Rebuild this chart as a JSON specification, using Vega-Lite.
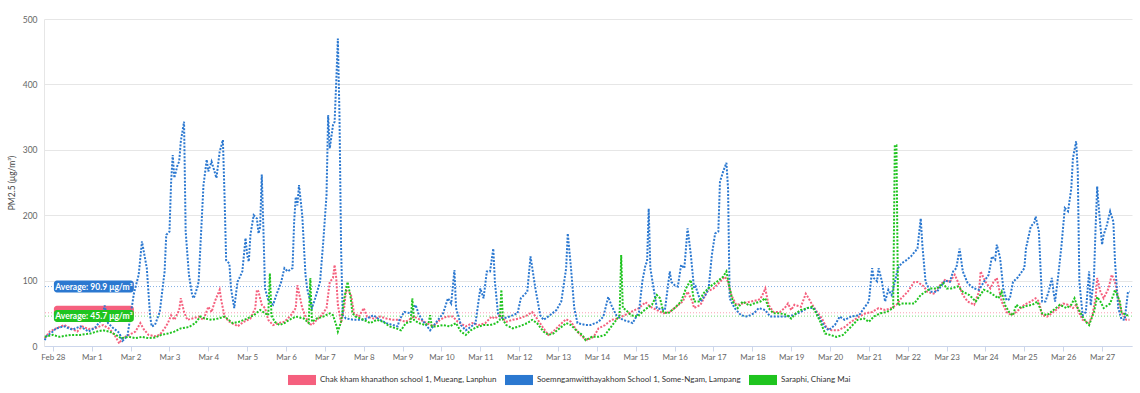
{
"$schema":"https://vega.github.io/schema/vega-lite/v6.json",
"width":1088,"height":327,
"autosize":{"type":"none"},
"padding":{"left":44,"top":19,"right":8,"bottom":47},
"background":"#ffffff",
"config":{
 "view":{"stroke":null},
 "font":"Lato",
 "axisY":{"gridColor":"#e6e6e6","domainColor":"#e6e6e6","ticks":false,"tickSize":0,"labelPadding":7,"labelColor":"#666666","labelFontSize":8.5,"labelFont":"Lato","titleFont":"Lato","titleFontSize":8.5,"titleColor":"#444444","titleFontWeight":"normal","titlePadding":6},
 "axisX":{"grid":false,"domainColor":"#ccd6eb","tickColor":"#ccd6eb","tickSize":5,"labelPadding":2,"labelColor":"#666666","labelFontSize":8,"labelFont":"Lato","labelFlush":false,"labelOverlap":false}
},
"datasets":{
 "avg":[
  {"s":"P","avg":50.8,"label":"Average: 50.8 μg/m³"},
  {"s":"B","avg":90.9,"label":"Average: 90.9 μg/m³"},
  {"s":"G","avg":45.7,"label":"Average: 45.7 μg/m³"}
 ]
},
"data":{"format":{"parse":{"t":"utc:'%m-%d %H'"}},"values":[
{"t":"02-27 19","s":"B","v":9},{"t":"02-27 20","s":"B","v":15},{"t":"02-27 23","s":"B","v":20},{"t":"02-28 02","s":"B","v":27},{"t":"02-28 07","s":"B","v":30},{"t":"02-28 12","s":"B","v":25},{"t":"02-28 17","s":"B","v":30},{"t":"02-28 22","s":"B","v":22},
{"t":"03-01 02","s":"B","v":28},{"t":"03-01 06","s":"B","v":40},{"t":"03-01 08","s":"B","v":62},{"t":"03-01 10","s":"B","v":35},{"t":"03-01 13","s":"B","v":28},{"t":"03-01 17","s":"B","v":20},{"t":"03-01 19","s":"B","v":8},{"t":"03-01 22","s":"B","v":15},
{"t":"03-02 00","s":"B","v":47},{"t":"03-02 02","s":"B","v":80},{"t":"03-02 05","s":"B","v":109},{"t":"03-02 07","s":"B","v":160},{"t":"03-02 10","s":"B","v":119},{"t":"03-02 12","s":"B","v":47},{"t":"03-02 13","s":"B","v":30},{"t":"03-02 15","s":"B","v":32},{"t":"03-02 18","s":"B","v":52},{"t":"03-02 21","s":"B","v":114},{"t":"03-02 22","s":"B","v":170},
{"t":"03-03 00","s":"B","v":175},{"t":"03-03 01","s":"B","v":250},{"t":"03-03 02","s":"B","v":292},{"t":"03-03 03","s":"B","v":257},{"t":"03-03 05","s":"B","v":277},{"t":"03-03 06","s":"B","v":282},{"t":"03-03 07","s":"B","v":313},{"t":"03-03 09","s":"B","v":343},{"t":"03-03 10","s":"B","v":175},{"t":"03-03 12","s":"B","v":109},{"t":"03-03 14","s":"B","v":78},{"t":"03-03 15","s":"B","v":73},{"t":"03-03 17","s":"B","v":88},{"t":"03-03 18","s":"B","v":98},{"t":"03-03 21","s":"B","v":246},{"t":"03-03 23","s":"B","v":285},
{"t":"03-04 00","s":"B","v":267},{"t":"03-04 02","s":"B","v":282},{"t":"03-04 05","s":"B","v":257},{"t":"03-04 07","s":"B","v":297},{"t":"03-04 09","s":"B","v":315},{"t":"03-04 10","s":"B","v":230},{"t":"03-04 11","s":"B","v":131},{"t":"03-04 13","s":"B","v":126},{"t":"03-04 14","s":"B","v":88},{"t":"03-04 16","s":"B","v":58},{"t":"03-04 18","s":"B","v":98},{"t":"03-04 19","s":"B","v":103},{"t":"03-04 21","s":"B","v":114},{"t":"03-04 23","s":"B","v":165},
{"t":"03-05 00","s":"B","v":139},{"t":"03-05 01","s":"B","v":129},{"t":"03-05 02","s":"B","v":170},{"t":"03-05 04","s":"B","v":200},{"t":"03-05 06","s":"B","v":195},{"t":"03-05 07","s":"B","v":172},{"t":"03-05 08","s":"B","v":182},{"t":"03-05 09","s":"B","v":262},{"t":"03-05 10","s":"B","v":180},{"t":"03-05 11","s":"B","v":88},{"t":"03-05 13","s":"B","v":70},{"t":"03-05 16","s":"B","v":63},{"t":"03-05 18","s":"B","v":78},{"t":"03-05 21","s":"B","v":98},{"t":"03-05 23","s":"B","v":119},
{"t":"03-06 01","s":"B","v":114},{"t":"03-06 04","s":"B","v":119},{"t":"03-06 05","s":"B","v":190},{"t":"03-06 06","s":"B","v":228},{"t":"03-06 07","s":"B","v":215},{"t":"03-06 08","s":"B","v":246},{"t":"03-06 10","s":"B","v":200},{"t":"03-06 12","s":"B","v":109},{"t":"03-06 13","s":"B","v":88},{"t":"03-06 15","s":"B","v":68},{"t":"03-06 16","s":"B","v":58},{"t":"03-06 18","s":"B","v":73},{"t":"03-06 21","s":"B","v":98},{"t":"03-06 23","s":"B","v":160},
{"t":"03-07 01","s":"B","v":231},{"t":"03-07 02","s":"B","v":353},{"t":"03-07 03","s":"B","v":302},{"t":"03-07 05","s":"B","v":338},{"t":"03-07 06","s":"B","v":343},{"t":"03-07 07","s":"B","v":404},{"t":"03-07 08","s":"B","v":470},{"t":"03-07 09","s":"B","v":353},{"t":"03-07 10","s":"B","v":149},{"t":"03-07 11","s":"B","v":47},{"t":"03-07 13","s":"B","v":42},{"t":"03-07 18","s":"B","v":40},
{"t":"03-08 00","s":"B","v":40},{"t":"03-08 06","s":"B","v":47},{"t":"03-08 10","s":"B","v":40},{"t":"03-08 14","s":"B","v":35},{"t":"03-08 18","s":"B","v":32},{"t":"03-08 21","s":"B","v":30},{"t":"03-08 22","s":"B","v":40},
{"t":"03-09 01","s":"B","v":52},{"t":"03-09 05","s":"B","v":50},{"t":"03-09 08","s":"B","v":63},{"t":"03-09 10","s":"B","v":48},{"t":"03-09 13","s":"B","v":37},{"t":"03-09 17","s":"B","v":24},{"t":"03-09 21","s":"B","v":37},
{"t":"03-10 01","s":"B","v":50},{"t":"03-10 04","s":"B","v":73},{"t":"03-10 06","s":"B","v":65},{"t":"03-10 08","s":"B","v":116},{"t":"03-10 09","s":"B","v":58},{"t":"03-10 12","s":"B","v":32},{"t":"03-10 15","s":"B","v":24},{"t":"03-10 18","s":"B","v":29},{"t":"03-10 21","s":"B","v":35},
{"t":"03-11 00","s":"B","v":88},{"t":"03-11 02","s":"B","v":73},{"t":"03-11 04","s":"B","v":114},{"t":"03-11 06","s":"B","v":114},{"t":"03-11 08","s":"B","v":149},{"t":"03-11 09","s":"B","v":98},{"t":"03-11 11","s":"B","v":47},{"t":"03-11 14","s":"B","v":42},{"t":"03-11 18","s":"B","v":45},{"t":"03-11 23","s":"B","v":50},
{"t":"03-12 01","s":"B","v":73},{"t":"03-12 05","s":"B","v":83},{"t":"03-12 07","s":"B","v":137},{"t":"03-12 10","s":"B","v":88},{"t":"03-12 13","s":"B","v":47},{"t":"03-12 15","s":"B","v":40},{"t":"03-12 19","s":"B","v":47},{"t":"03-12 23","s":"B","v":55},
{"t":"03-13 02","s":"B","v":68},{"t":"03-13 05","s":"B","v":119},{"t":"03-13 06","s":"B","v":172},{"t":"03-13 08","s":"B","v":119},{"t":"03-13 10","s":"B","v":58},{"t":"03-13 12","s":"B","v":35},{"t":"03-13 17","s":"B","v":32},{"t":"03-13 20","s":"B","v":32},
{"t":"03-14 01","s":"B","v":37},{"t":"03-14 04","s":"B","v":45},{"t":"03-14 07","s":"B","v":75},{"t":"03-14 09","s":"B","v":62},{"t":"03-14 12","s":"B","v":47},{"t":"03-14 16","s":"B","v":40},{"t":"03-14 20","s":"B","v":37},{"t":"03-14 22","s":"B","v":35},
{"t":"03-15 02","s":"B","v":52},{"t":"03-15 04","s":"B","v":98},{"t":"03-15 06","s":"B","v":124},{"t":"03-15 07","s":"B","v":129},{"t":"03-15 08","s":"B","v":210},{"t":"03-15 09","s":"B","v":119},{"t":"03-15 13","s":"B","v":58},{"t":"03-15 18","s":"B","v":55},{"t":"03-15 21","s":"B","v":114},{"t":"03-15 22","s":"B","v":98},
{"t":"03-16 00","s":"B","v":93},{"t":"03-16 02","s":"B","v":91},{"t":"03-16 04","s":"B","v":124},{"t":"03-16 06","s":"B","v":119},{"t":"03-16 07","s":"B","v":149},{"t":"03-16 08","s":"B","v":180},{"t":"03-16 10","s":"B","v":140},{"t":"03-16 12","s":"B","v":88},{"t":"03-16 13","s":"B","v":91},{"t":"03-16 16","s":"B","v":68},{"t":"03-16 19","s":"B","v":78},{"t":"03-16 21","s":"B","v":88},{"t":"03-16 23","s":"B","v":139},
{"t":"03-17 01","s":"B","v":172},{"t":"03-17 03","s":"B","v":175},{"t":"03-17 04","s":"B","v":251},{"t":"03-17 06","s":"B","v":267},{"t":"03-17 08","s":"B","v":280},{"t":"03-17 09","s":"B","v":241},{"t":"03-17 10","s":"B","v":73},{"t":"03-17 13","s":"B","v":58},{"t":"03-17 17","s":"B","v":47},{"t":"03-17 21","s":"B","v":45},
{"t":"03-18 01","s":"B","v":50},{"t":"03-18 04","s":"B","v":58},{"t":"03-18 08","s":"B","v":55},{"t":"03-18 11","s":"B","v":45},{"t":"03-18 17","s":"B","v":45},{"t":"03-18 21","s":"B","v":45},
{"t":"03-19 01","s":"B","v":47},{"t":"03-19 06","s":"B","v":52},{"t":"03-19 10","s":"B","v":58},{"t":"03-19 14","s":"B","v":58},{"t":"03-19 17","s":"B","v":45},{"t":"03-19 20","s":"B","v":32},{"t":"03-19 23","s":"B","v":24},
{"t":"03-20 03","s":"B","v":32},{"t":"03-20 06","s":"B","v":45},{"t":"03-20 09","s":"B","v":40},{"t":"03-20 13","s":"B","v":45},{"t":"03-20 18","s":"B","v":47},{"t":"03-20 21","s":"B","v":58},
{"t":"03-21 00","s":"B","v":68},{"t":"03-21 02","s":"B","v":119},{"t":"03-21 03","s":"B","v":104},{"t":"03-21 05","s":"B","v":99},{"t":"03-21 06","s":"B","v":119},{"t":"03-21 08","s":"B","v":99},{"t":"03-21 10","s":"B","v":68},{"t":"03-21 12","s":"B","v":86},{"t":"03-21 14","s":"B","v":78},{"t":"03-21 16","s":"B","v":98},{"t":"03-21 18","s":"B","v":119},{"t":"03-21 20","s":"B","v":126},{"t":"03-21 23","s":"B","v":131},
{"t":"03-22 02","s":"B","v":137},{"t":"03-22 06","s":"B","v":149},{"t":"03-22 08","s":"B","v":195},{"t":"03-22 09","s":"B","v":155},{"t":"03-22 11","s":"B","v":98},{"t":"03-22 14","s":"B","v":83},{"t":"03-22 18","s":"B","v":83},{"t":"03-22 21","s":"B","v":93},{"t":"03-22 23","s":"B","v":100},
{"t":"03-23 02","s":"B","v":98},{"t":"03-23 04","s":"B","v":114},{"t":"03-23 06","s":"B","v":119},{"t":"03-23 08","s":"B","v":149},{"t":"03-23 10","s":"B","v":114},{"t":"03-23 13","s":"B","v":96},{"t":"03-23 17","s":"B","v":88},{"t":"03-23 20","s":"B","v":86},{"t":"03-23 23","s":"B","v":98},
{"t":"03-24 02","s":"B","v":109},{"t":"03-24 04","s":"B","v":137},{"t":"03-24 06","s":"B","v":132},{"t":"03-24 07","s":"B","v":155},{"t":"03-24 09","s":"B","v":135},{"t":"03-24 11","s":"B","v":88},{"t":"03-24 13","s":"B","v":70},{"t":"03-24 15","s":"B","v":72},{"t":"03-24 17","s":"B","v":98},{"t":"03-24 20","s":"B","v":105},
{"t":"03-25 00","s":"B","v":119},{"t":"03-25 01","s":"B","v":149},{"t":"03-25 04","s":"B","v":183},{"t":"03-25 06","s":"B","v":188},{"t":"03-25 07","s":"B","v":198},{"t":"03-25 09","s":"B","v":175},{"t":"03-25 10","s":"B","v":119},{"t":"03-25 11","s":"B","v":68},{"t":"03-25 13","s":"B","v":68},{"t":"03-25 15","s":"B","v":83},{"t":"03-25 17","s":"B","v":104},{"t":"03-25 18","s":"B","v":83},{"t":"03-25 19","s":"B","v":68},{"t":"03-25 21","s":"B","v":109},{"t":"03-25 23","s":"B","v":155},
{"t":"03-26 01","s":"B","v":211},{"t":"03-26 03","s":"B","v":206},{"t":"03-26 05","s":"B","v":241},{"t":"03-26 06","s":"B","v":287},{"t":"03-26 08","s":"B","v":313},{"t":"03-26 09","s":"B","v":267},{"t":"03-26 10","s":"B","v":98},{"t":"03-26 12","s":"B","v":47},{"t":"03-26 14","s":"B","v":52},{"t":"03-26 16","s":"B","v":114},{"t":"03-26 17","s":"B","v":62},{"t":"03-26 19","s":"B","v":104},{"t":"03-26 20","s":"B","v":180},{"t":"03-26 21","s":"B","v":244},{"t":"03-26 22","s":"B","v":211},
{"t":"03-27 00","s":"B","v":155},{"t":"03-27 01","s":"B","v":170},{"t":"03-27 03","s":"B","v":185},{"t":"03-27 05","s":"B","v":206},{"t":"03-27 07","s":"B","v":190},{"t":"03-27 08","s":"B","v":129},{"t":"03-27 10","s":"B","v":58},{"t":"03-27 12","s":"B","v":41},{"t":"03-27 14","s":"B","v":40},{"t":"03-27 16","s":"B","v":83},{"t":"03-27 17","s":"B","v":83},
{"t":"02-27 19","s":"P","v":12},{"t":"02-27 22","s":"P","v":22},{"t":"02-28 02","s":"P","v":27},{"t":"02-28 07","s":"P","v":32},{"t":"02-28 11","s":"P","v":27},{"t":"02-28 15","s":"P","v":22},{"t":"02-28 18","s":"P","v":30},{"t":"02-28 22","s":"P","v":26},
{"t":"03-01 02","s":"P","v":27},{"t":"03-01 07","s":"P","v":32},{"t":"03-01 11","s":"P","v":26},{"t":"03-01 14","s":"P","v":17},{"t":"03-01 17","s":"P","v":4},{"t":"03-01 19","s":"P","v":12},{"t":"03-01 23","s":"P","v":17},
{"t":"03-02 03","s":"P","v":22},{"t":"03-02 06","s":"P","v":35},{"t":"03-02 08","s":"P","v":26},{"t":"03-02 11","s":"P","v":17},{"t":"03-02 15","s":"P","v":15},{"t":"03-02 18","s":"P","v":17},{"t":"03-02 21","s":"P","v":27},{"t":"03-02 23","s":"P","v":35},
{"t":"03-03 01","s":"P","v":47},{"t":"03-03 03","s":"P","v":40},{"t":"03-03 06","s":"P","v":55},{"t":"03-03 07","s":"P","v":73},{"t":"03-03 09","s":"P","v":52},{"t":"03-03 11","s":"P","v":40},{"t":"03-03 14","s":"P","v":42},{"t":"03-03 18","s":"P","v":45},{"t":"03-03 21","s":"P","v":40},
{"t":"03-04 00","s":"P","v":60},{"t":"03-04 02","s":"P","v":52},{"t":"03-04 04","s":"P","v":68},{"t":"03-04 07","s":"P","v":86},{"t":"03-04 08","s":"P","v":70},{"t":"03-04 10","s":"P","v":45},{"t":"03-04 13","s":"P","v":37},{"t":"03-04 17","s":"P","v":32},{"t":"03-04 18","s":"P","v":30},{"t":"03-04 22","s":"P","v":37},
{"t":"03-05 02","s":"P","v":42},{"t":"03-05 05","s":"P","v":58},{"t":"03-05 06","s":"P","v":86},{"t":"03-05 07","s":"P","v":83},{"t":"03-05 09","s":"P","v":63},{"t":"03-05 11","s":"P","v":58},{"t":"03-05 13","s":"P","v":40},{"t":"03-05 16","s":"P","v":32},{"t":"03-05 19","s":"P","v":35},{"t":"03-05 23","s":"P","v":37},
{"t":"03-06 03","s":"P","v":47},{"t":"03-06 06","s":"P","v":58},{"t":"03-06 07","s":"P","v":93},{"t":"03-06 10","s":"P","v":58},{"t":"03-06 12","s":"P","v":45},{"t":"03-06 14","s":"P","v":35},{"t":"03-06 16","s":"P","v":32},{"t":"03-06 19","s":"P","v":40},{"t":"03-06 22","s":"P","v":47},
{"t":"03-07 01","s":"P","v":58},{"t":"03-07 03","s":"P","v":98},{"t":"03-07 05","s":"P","v":104},{"t":"03-07 06","s":"P","v":124},{"t":"03-07 07","s":"P","v":104},{"t":"03-07 08","s":"P","v":63},{"t":"03-07 10","s":"P","v":35},{"t":"03-07 12","s":"P","v":60},{"t":"03-07 13","s":"P","v":85},{"t":"03-07 16","s":"P","v":80},{"t":"03-07 18","s":"P","v":50},{"t":"03-07 21","s":"P","v":45},
{"t":"03-08 00","s":"P","v":58},{"t":"03-08 02","s":"P","v":45},{"t":"03-08 06","s":"P","v":42},{"t":"03-08 10","s":"P","v":45},{"t":"03-08 14","s":"P","v":42},{"t":"03-08 18","s":"P","v":40},{"t":"03-08 22","s":"P","v":40},
{"t":"03-09 02","s":"P","v":37},{"t":"03-09 07","s":"P","v":45},{"t":"03-09 11","s":"P","v":40},{"t":"03-09 15","s":"P","v":35},{"t":"03-09 19","s":"P","v":30},{"t":"03-09 23","s":"P","v":40},
{"t":"03-10 03","s":"P","v":45},{"t":"03-10 07","s":"P","v":45},{"t":"03-10 10","s":"P","v":37},{"t":"03-10 15","s":"P","v":30},{"t":"03-10 19","s":"P","v":35},{"t":"03-10 23","s":"P","v":32},
{"t":"03-11 03","s":"P","v":35},{"t":"03-11 07","s":"P","v":45},{"t":"03-11 09","s":"P","v":42},{"t":"03-11 12","s":"P","v":47},{"t":"03-11 16","s":"P","v":37},{"t":"03-11 20","s":"P","v":40},
{"t":"03-12 00","s":"P","v":42},{"t":"03-12 05","s":"P","v":47},{"t":"03-12 08","s":"P","v":52},{"t":"03-12 11","s":"P","v":42},{"t":"03-12 15","s":"P","v":27},{"t":"03-12 18","s":"P","v":17},{"t":"03-12 21","s":"P","v":22},
{"t":"03-13 01","s":"P","v":32},{"t":"03-13 05","s":"P","v":41},{"t":"03-13 08","s":"P","v":37},{"t":"03-13 12","s":"P","v":22},{"t":"03-13 15","s":"P","v":14},{"t":"03-13 18","s":"P","v":9},{"t":"03-13 22","s":"P","v":14},
{"t":"03-14 01","s":"P","v":27},{"t":"03-14 05","s":"P","v":32},{"t":"03-14 09","s":"P","v":40},{"t":"03-14 13","s":"P","v":42},{"t":"03-14 17","s":"P","v":47},{"t":"03-14 21","s":"P","v":52},
{"t":"03-15 02","s":"P","v":58},{"t":"03-15 06","s":"P","v":67},{"t":"03-15 09","s":"P","v":60},{"t":"03-15 13","s":"P","v":55},{"t":"03-15 17","s":"P","v":50},{"t":"03-15 21","s":"P","v":52},
{"t":"03-16 01","s":"P","v":60},{"t":"03-16 05","s":"P","v":68},{"t":"03-16 08","s":"P","v":83},{"t":"03-16 11","s":"P","v":68},{"t":"03-16 12","s":"P","v":58},{"t":"03-16 16","s":"P","v":63},{"t":"03-16 20","s":"P","v":83},
{"t":"03-17 00","s":"P","v":88},{"t":"03-17 04","s":"P","v":98},{"t":"03-17 07","s":"P","v":106},{"t":"03-17 09","s":"P","v":98},{"t":"03-17 11","s":"P","v":78},{"t":"03-17 14","s":"P","v":63},{"t":"03-17 18","s":"P","v":65},{"t":"03-17 23","s":"P","v":68},
{"t":"03-18 03","s":"P","v":70},{"t":"03-18 05","s":"P","v":72},{"t":"03-18 07","s":"P","v":82},{"t":"03-18 08","s":"P","v":88},{"t":"03-18 10","s":"P","v":63},{"t":"03-18 13","s":"P","v":52},{"t":"03-18 17","s":"P","v":52},{"t":"03-18 20","s":"P","v":58},{"t":"03-18 22","s":"P","v":65},
{"t":"03-19 00","s":"P","v":55},{"t":"03-19 02","s":"P","v":63},{"t":"03-19 06","s":"P","v":60},{"t":"03-19 09","s":"P","v":80},{"t":"03-19 11","s":"P","v":72},{"t":"03-19 13","s":"P","v":63},{"t":"03-19 16","s":"P","v":52},{"t":"03-19 19","s":"P","v":42},{"t":"03-19 22","s":"P","v":27},
{"t":"03-20 01","s":"P","v":24},{"t":"03-20 05","s":"P","v":24},{"t":"03-20 09","s":"P","v":29},{"t":"03-20 13","s":"P","v":37},{"t":"03-20 18","s":"P","v":45},{"t":"03-20 22","s":"P","v":50},
{"t":"03-21 02","s":"P","v":52},{"t":"03-21 06","s":"P","v":58},{"t":"03-21 10","s":"P","v":55},{"t":"03-21 14","s":"P","v":58},{"t":"03-21 17","s":"P","v":63},{"t":"03-21 20","s":"P","v":73},
{"t":"03-22 00","s":"P","v":83},{"t":"03-22 04","s":"P","v":98},{"t":"03-22 06","s":"P","v":98},{"t":"03-22 10","s":"P","v":91},{"t":"03-22 12","s":"P","v":83},{"t":"03-22 16","s":"P","v":80},{"t":"03-22 20","s":"P","v":93},{"t":"03-22 23","s":"P","v":101},
{"t":"03-23 02","s":"P","v":98},{"t":"03-23 05","s":"P","v":109},{"t":"03-23 07","s":"P","v":98},{"t":"03-23 10","s":"P","v":78},{"t":"03-23 13","s":"P","v":68},{"t":"03-23 17","s":"P","v":63},{"t":"03-23 20","s":"P","v":83},{"t":"03-23 21","s":"P","v":114},
{"t":"03-24 00","s":"P","v":98},{"t":"03-24 03","s":"P","v":88},{"t":"03-24 05","s":"P","v":98},{"t":"03-24 07","s":"P","v":104},{"t":"03-24 10","s":"P","v":68},{"t":"03-24 13","s":"P","v":52},{"t":"03-24 16","s":"P","v":47},{"t":"03-24 19","s":"P","v":52},
{"t":"03-25 00","s":"P","v":63},{"t":"03-25 04","s":"P","v":68},{"t":"03-25 07","s":"P","v":73},{"t":"03-25 09","s":"P","v":68},{"t":"03-25 11","s":"P","v":47},{"t":"03-25 14","s":"P","v":45},{"t":"03-25 17","s":"P","v":50},{"t":"03-25 21","s":"P","v":58},
{"t":"03-26 00","s":"P","v":65},{"t":"03-26 03","s":"P","v":63},{"t":"03-26 06","s":"P","v":58},{"t":"03-26 08","s":"P","v":63},{"t":"03-26 10","s":"P","v":50},{"t":"03-26 12","s":"P","v":40},{"t":"03-26 16","s":"P","v":35},{"t":"03-26 18","s":"P","v":47},{"t":"03-26 20","s":"P","v":73},{"t":"03-26 21","s":"P","v":104},{"t":"03-26 23","s":"P","v":83},
{"t":"03-27 01","s":"P","v":73},{"t":"03-27 04","s":"P","v":88},{"t":"03-27 06","s":"P","v":109},{"t":"03-27 08","s":"P","v":98},{"t":"03-27 10","s":"P","v":73},{"t":"03-27 12","s":"P","v":52},{"t":"03-27 15","s":"P","v":40},{"t":"03-27 17","s":"P","v":40},
{"t":"02-27 19","s":"G","v":14},{"t":"02-28 00","s":"G","v":17},{"t":"02-28 04","s":"G","v":14},{"t":"02-28 11","s":"G","v":17},{"t":"02-28 17","s":"G","v":17},{"t":"02-28 23","s":"G","v":19},
{"t":"03-01 03","s":"G","v":22},{"t":"03-01 07","s":"G","v":24},{"t":"03-01 11","s":"G","v":22},{"t":"03-01 15","s":"G","v":17},{"t":"03-01 18","s":"G","v":12},{"t":"03-01 23","s":"G","v":14},
{"t":"03-02 03","s":"G","v":12},{"t":"03-02 07","s":"G","v":14},{"t":"03-02 11","s":"G","v":12},{"t":"03-02 15","s":"G","v":13},{"t":"03-02 19","s":"G","v":17},{"t":"03-02 23","s":"G","v":19},
{"t":"03-03 03","s":"G","v":22},{"t":"03-03 07","s":"G","v":27},{"t":"03-03 12","s":"G","v":29},{"t":"03-03 16","s":"G","v":35},{"t":"03-03 19","s":"G","v":45},{"t":"03-03 22","s":"G","v":42},
{"t":"03-04 02","s":"G","v":40},{"t":"03-04 06","s":"G","v":42},{"t":"03-04 10","s":"G","v":45},{"t":"03-04 15","s":"G","v":35},{"t":"03-04 19","s":"G","v":37},
{"t":"03-05 00","s":"G","v":42},{"t":"03-05 04","s":"G","v":47},{"t":"03-05 08","s":"G","v":55},{"t":"03-05 11","s":"G","v":50},{"t":"03-05 13","s":"G","v":47},{"t":"03-05 14","s":"G","v":111},{"t":"03-05 15","s":"G","v":47},{"t":"03-05 17","s":"G","v":37},{"t":"03-05 20","s":"G","v":32},{"t":"03-05 23","s":"G","v":35},
{"t":"03-06 02","s":"G","v":40},{"t":"03-06 06","s":"G","v":45},{"t":"03-06 11","s":"G","v":42},{"t":"03-06 14","s":"G","v":35},{"t":"03-06 15","s":"G","v":104},{"t":"03-06 16","s":"G","v":37},{"t":"03-06 19","s":"G","v":42},{"t":"03-06 23","s":"G","v":45},
{"t":"03-07 03","s":"G","v":50},{"t":"03-07 05","s":"G","v":47},{"t":"03-07 07","s":"G","v":32},{"t":"03-07 08","s":"G","v":22},{"t":"03-07 10","s":"G","v":37},{"t":"03-07 12","s":"G","v":73},{"t":"03-07 14","s":"G","v":98},{"t":"03-07 16","s":"G","v":73},{"t":"03-07 17","s":"G","v":50},{"t":"03-07 19","s":"G","v":45},
{"t":"03-08 00","s":"G","v":40},{"t":"03-08 04","s":"G","v":35},{"t":"03-08 08","s":"G","v":40},{"t":"03-08 12","s":"G","v":37},{"t":"03-08 16","s":"G","v":30},{"t":"03-08 20","s":"G","v":27},{"t":"03-08 23","s":"G","v":24},
{"t":"03-09 02","s":"G","v":35},{"t":"03-09 05","s":"G","v":37},{"t":"03-09 06","s":"G","v":73},{"t":"03-09 07","s":"G","v":40},{"t":"03-09 10","s":"G","v":35},{"t":"03-09 14","s":"G","v":32},{"t":"03-09 16","s":"G","v":35},{"t":"03-09 17","s":"G","v":47},{"t":"03-09 18","s":"G","v":30},{"t":"03-09 21","s":"G","v":30},
{"t":"03-10 01","s":"G","v":32},{"t":"03-10 05","s":"G","v":30},{"t":"03-10 09","s":"G","v":35},{"t":"03-10 12","s":"G","v":22},{"t":"03-10 15","s":"G","v":17},{"t":"03-10 18","s":"G","v":24},{"t":"03-10 22","s":"G","v":29},
{"t":"03-11 02","s":"G","v":32},{"t":"03-11 06","s":"G","v":32},{"t":"03-11 10","s":"G","v":35},{"t":"03-11 12","s":"G","v":40},{"t":"03-11 13","s":"G","v":86},{"t":"03-11 14","s":"G","v":40},{"t":"03-11 16","s":"G","v":32},{"t":"03-11 20","s":"G","v":27},
{"t":"03-12 00","s":"G","v":30},{"t":"03-12 05","s":"G","v":35},{"t":"03-12 08","s":"G","v":40},{"t":"03-12 11","s":"G","v":35},{"t":"03-12 15","s":"G","v":22},{"t":"03-12 18","s":"G","v":17},{"t":"03-12 21","s":"G","v":19},
{"t":"03-13 01","s":"G","v":27},{"t":"03-13 05","s":"G","v":35},{"t":"03-13 08","s":"G","v":32},{"t":"03-13 12","s":"G","v":22},{"t":"03-13 15","s":"G","v":17},{"t":"03-13 17","s":"G","v":9},{"t":"03-13 21","s":"G","v":14},
{"t":"03-14 01","s":"G","v":14},{"t":"03-14 05","s":"G","v":17},{"t":"03-14 09","s":"G","v":30},{"t":"03-14 12","s":"G","v":40},{"t":"03-14 14","s":"G","v":47},{"t":"03-14 15","s":"G","v":139},{"t":"03-14 16","s":"G","v":58},{"t":"03-14 18","s":"G","v":55},{"t":"03-14 21","s":"G","v":47},
{"t":"03-15 01","s":"G","v":45},{"t":"03-15 04","s":"G","v":52},{"t":"03-15 07","s":"G","v":58},{"t":"03-15 10","s":"G","v":63},{"t":"03-15 13","s":"G","v":78},{"t":"03-15 15","s":"G","v":73},{"t":"03-15 17","s":"G","v":52},{"t":"03-15 20","s":"G","v":50},
{"t":"03-16 00","s":"G","v":58},{"t":"03-16 04","s":"G","v":68},{"t":"03-16 07","s":"G","v":88},{"t":"03-16 10","s":"G","v":101},{"t":"03-16 12","s":"G","v":68},{"t":"03-16 15","s":"G","v":68},{"t":"03-16 18","s":"G","v":81},{"t":"03-16 22","s":"G","v":91},
{"t":"03-17 02","s":"G","v":98},{"t":"03-17 06","s":"G","v":106},{"t":"03-17 08","s":"G","v":114},{"t":"03-17 10","s":"G","v":88},{"t":"03-17 12","s":"G","v":68},{"t":"03-17 15","s":"G","v":58},{"t":"03-17 18","s":"G","v":68},{"t":"03-17 22","s":"G","v":62},
{"t":"03-18 01","s":"G","v":65},{"t":"03-18 05","s":"G","v":68},{"t":"03-18 08","s":"G","v":73},{"t":"03-18 10","s":"G","v":58},{"t":"03-18 13","s":"G","v":50},{"t":"03-18 17","s":"G","v":50},{"t":"03-18 21","s":"G","v":48},
{"t":"03-19 00","s":"G","v":42},{"t":"03-19 03","s":"G","v":50},{"t":"03-19 06","s":"G","v":55},{"t":"03-19 10","s":"G","v":58},{"t":"03-19 13","s":"G","v":60},{"t":"03-19 15","s":"G","v":52},{"t":"03-19 18","s":"G","v":37},{"t":"03-19 21","s":"G","v":19},
{"t":"03-20 00","s":"G","v":17},{"t":"03-20 04","s":"G","v":14},{"t":"03-20 08","s":"G","v":17},{"t":"03-20 12","s":"G","v":27},{"t":"03-20 17","s":"G","v":40},{"t":"03-20 21","s":"G","v":42},
{"t":"03-21 00","s":"G","v":37},{"t":"03-21 03","s":"G","v":45},{"t":"03-21 07","s":"G","v":50},{"t":"03-21 11","s":"G","v":52},{"t":"03-21 15","s":"G","v":58},{"t":"03-21 16","s":"G","v":307},{"t":"03-21 17","s":"G","v":307},{"t":"03-21 18","s":"G","v":62},{"t":"03-21 20","s":"G","v":65},
{"t":"03-22 00","s":"G","v":65},{"t":"03-22 04","s":"G","v":65},{"t":"03-22 08","s":"G","v":78},{"t":"03-22 11","s":"G","v":83},{"t":"03-22 14","s":"G","v":88},{"t":"03-22 18","s":"G","v":88},{"t":"03-22 22","s":"G","v":96},
{"t":"03-23 00","s":"G","v":88},{"t":"03-23 03","s":"G","v":88},{"t":"03-23 07","s":"G","v":91},{"t":"03-23 10","s":"G","v":83},{"t":"03-23 14","s":"G","v":78},{"t":"03-23 18","s":"G","v":68},{"t":"03-23 23","s":"G","v":86},
{"t":"03-24 02","s":"G","v":83},{"t":"03-24 05","s":"G","v":78},{"t":"03-24 08","s":"G","v":73},{"t":"03-24 10","s":"G","v":83},{"t":"03-24 12","s":"G","v":63},{"t":"03-24 15","s":"G","v":50},{"t":"03-24 17","s":"G","v":47},{"t":"03-24 19","s":"G","v":63},{"t":"03-24 22","s":"G","v":58},
{"t":"03-25 01","s":"G","v":61},{"t":"03-25 05","s":"G","v":63},{"t":"03-25 08","s":"G","v":68},{"t":"03-25 11","s":"G","v":50},{"t":"03-25 14","s":"G","v":47},{"t":"03-25 18","s":"G","v":55},{"t":"03-25 22","s":"G","v":63},
{"t":"03-26 02","s":"G","v":58},{"t":"03-26 05","s":"G","v":63},{"t":"03-26 07","s":"G","v":73},{"t":"03-26 09","s":"G","v":58},{"t":"03-26 12","s":"G","v":45},{"t":"03-26 14","s":"G","v":37},{"t":"03-26 16","s":"G","v":32},{"t":"03-26 19","s":"G","v":52},{"t":"03-26 21","s":"G","v":75},{"t":"03-26 23","s":"G","v":68},
{"t":"03-27 01","s":"G","v":58},{"t":"03-27 05","s":"G","v":65},{"t":"03-27 07","s":"G","v":78},{"t":"03-27 08","s":"G","v":86},{"t":"03-27 11","s":"G","v":68},{"t":"03-27 12","s":"G","v":52},{"t":"03-27 15","s":"G","v":47},{"t":"03-27 17","s":"G","v":47}
]},
"layer":[
 {"data":{"name":"avg"},"transform":[{"filter":"datum.s=='P'"}],
  "mark":{"type":"rect","cornerRadius":3,"yOffset":-7,"y2Offset":5,"opacity":1},
  "encoding":{
   "x":{"datum":{"year":1900,"month":2,"date":28,"hours":0,"minutes":37,"utc":true},"type":"temporal","title":null,
        "scale":{"type":"utc","nice":false,"domain":[{"year":1900,"month":2,"date":27,"hours":18,"minutes":30,"utc":true},{"year":1900,"month":3,"date":27,"hours":18,"minutes":30,"utc":true}]},
        "axis":{"format":"%b %-d","tickCount":{"interval":"day","step":1}}},
   "x2":{"datum":{"year":1900,"month":3,"date":2,"hours":2,"minutes":0,"utc":true}},
   "y":{"field":"avg","type":"quantitative","title":"PM2.5 (μg/m³)","scale":{"domain":[0,500],"nice":false},"axis":{"values":[0,50,100,150,200,250,300,350,400,450,500]}},
   "y2":{"field":"avg"},
   "color":{"field":"s","type":"nominal","scale":{"domain":["P","B","G"],"range":["#f5607e","#2b78d0","#1fc41f"]},
     "legend":{"orient":"none","legendX":244,"legendY":347,"direction":"horizontal","title":null,"gridAlign":"none",
       "labelExpr":"datum.value=='P'?'Chak kham khanathon school 1, Mueang, Lanphun':datum.value=='B'?'Soemngamwitthayakhom School 1, Some-Ngam, Lampang':'Saraphi, Chiang Mai'",
       "symbolType":"M-1,-0.36L1,-0.36L1,0.36L-1,0.36Z","symbolSize":784,"symbolStrokeWidth":0,"symbolOpacity":1,
       "labelFont":"Lato","labelFontSize":8,"labelColor":"#333333","labelLimit":400,"labelOffset":4,"columnPadding":8}}
  }},
 {"data":{"name":"avg"},
  "mark":{"type":"rule","strokeDash":[1,2],"strokeWidth":1,"strokeOpacity":0.6},
  "encoding":{
   "y":{"field":"avg","type":"quantitative","title":"PM2.5 (μg/m³)"},
   "color":{"field":"s","type":"nominal"}
  }},
 {"transform":[{"filter":"datum.s=='P'"}],
  "mark":{"type":"line","strokeWidth":2,"strokeDash":[2,1.5]},
  "encoding":{
   "x":{"field":"t","type":"temporal","title":null},
   "y":{"field":"v","type":"quantitative","title":"PM2.5 (μg/m³)"},
   "color":{"field":"s","type":"nominal"}
  }},
 {"transform":[{"filter":"datum.s=='B'"}],
  "mark":{"type":"line","strokeWidth":2,"strokeDash":[2,1.5]},
  "encoding":{
   "x":{"field":"t","type":"temporal","title":null},
   "y":{"field":"v","type":"quantitative","title":"PM2.5 (μg/m³)"},
   "color":{"field":"s","type":"nominal"}
  }},
 {"transform":[{"filter":"datum.s=='G'"}],
  "mark":{"type":"line","strokeWidth":2,"strokeDash":[2,1.5]},
  "encoding":{
   "x":{"field":"t","type":"temporal","title":null},
   "y":{"field":"v","type":"quantitative","title":"PM2.5 (μg/m³)"},
   "color":{"field":"s","type":"nominal"}
  }},
 {"data":{"name":"avg"},"transform":[{"filter":"datum.s!='P'"}],
  "mark":{"type":"rect","cornerRadius":3,"yOffset":-6,"y2Offset":6},
  "encoding":{
   "x":{"datum":{"year":1900,"month":2,"date":28,"hours":0,"minutes":37,"utc":true},"type":"temporal","title":null},
   "x2":{"datum":{"year":1900,"month":3,"date":2,"hours":2,"minutes":0,"utc":true}},
   "y":{"field":"avg","type":"quantitative","title":"PM2.5 (μg/m³)"},
   "y2":{"field":"avg"},
   "color":{"field":"s","type":"nominal"}
  }},
 {"data":{"name":"avg"},"transform":[{"filter":"datum.s!='P'"}],
  "mark":{"type":"text","fill":"#ffffff","font":"Lato","fontSize":8.5,"fontWeight":"bold","align":"center","baseline":"middle"},
  "encoding":{
   "x":{"datum":{"year":1900,"month":3,"date":1,"hours":1,"minutes":20,"utc":true},"type":"temporal","title":null},
   "y":{"field":"avg","type":"quantitative","title":"PM2.5 (μg/m³)"},
   "text":{"field":"label"}
  }}
]
}
